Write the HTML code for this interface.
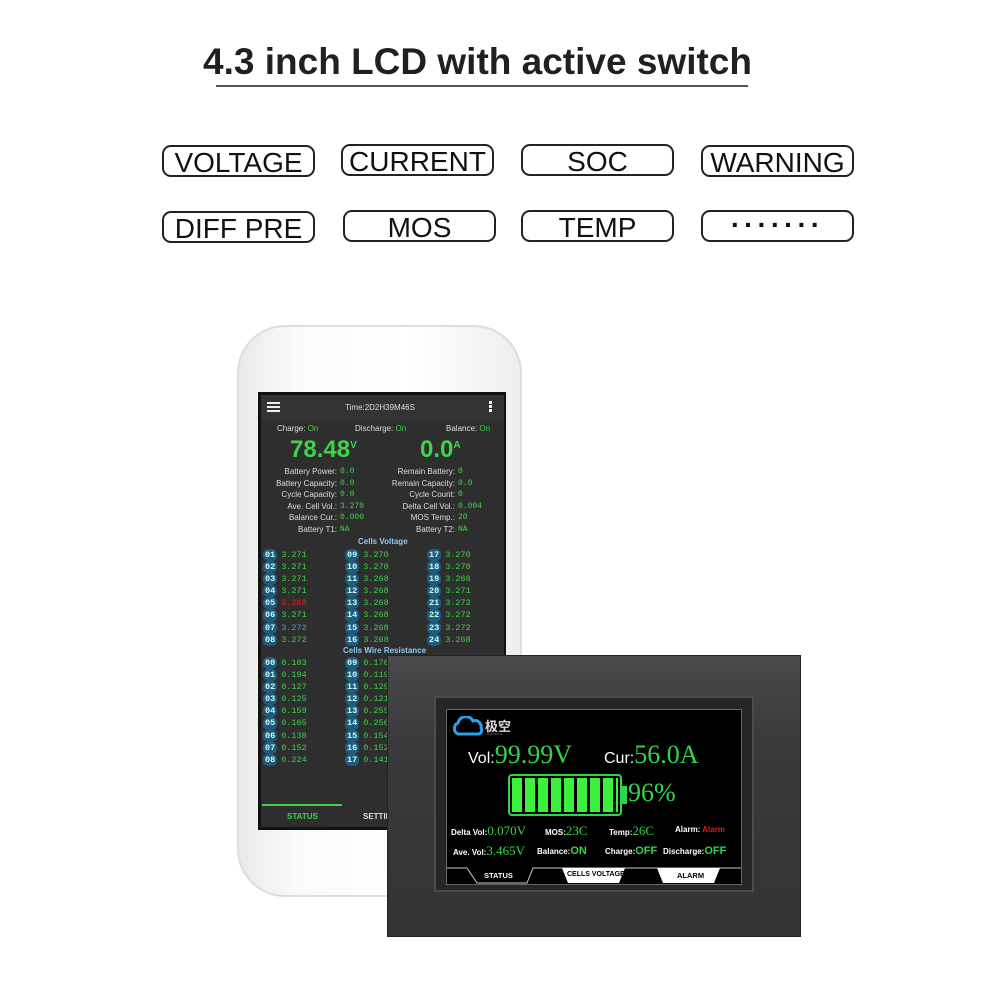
<!DOCTYPE html>
<html><head><meta charset="utf-8"><style>
*{margin:0;padding:0;box-sizing:border-box}
body{width:1000px;height:1000px;background:#fff;position:relative;overflow:hidden;font-family:"Liberation Sans","Noto Sans CJK SC",sans-serif}
.a{position:absolute}
.t{left:0;width:955px;top:41px;text-align:center;font-size:37px;font-weight:bold;color:#231f20}
.ul{left:216px;top:85px;width:532px;height:2px;background:#555}
.b{position:absolute;width:153px;height:32px;border:2px solid #222;border-radius:9px;text-align:center;font-size:28px;line-height:32px;color:#111;letter-spacing:0}
.sc{font-size:8px;color:#ddd;white-space:nowrap}
.g{color:#3fd34a}
.cl{position:absolute;font-size:8.5px;font-family:"Liberation Mono",monospace;color:#3fd34a;white-space:nowrap}
.cl i{font-style:normal;display:inline-block;background:#1f5b80;color:#cfe;border-radius:5px;padding:0 2px;margin-right:4px;font-weight:bold}
.lbl{position:absolute;color:#fff;font-size:9px;font-weight:bold;white-space:nowrap}
.gv{color:#2fd64a;font-family:"Liberation Serif",serif;font-weight:normal}
</style></head><body>
<div class="a t">4.3 inch LCD with active switch</div>
<div class="a ul"></div>
<div class="b" style="left:162px;top:145px">VOLTAGE</div>
<div class="b" style="left:341px;top:144px">CURRENT</div>
<div class="b" style="left:521px;top:144px">SOC</div>
<div class="b" style="left:701px;top:145px">WARNING</div>
<div class="b" style="left:162px;top:211px">DIFF PRE</div>
<div class="b" style="left:343px;top:210px">MOS</div>
<div class="b" style="left:521px;top:210px">TEMP</div>
<div class="b" style="left:701px;top:210px;line-height:26px;letter-spacing:4px;font-weight:bold">·······</div>

<!-- phone -->
<div class="a" style="left:237px;top:325px;width:285px;height:572px;border-radius:48px;background:linear-gradient(90deg,#e9e9e9,#fafafa 20%,#fff 60%,#eee);border:2px solid #ddd"></div>
<div class="a" style="left:258px;top:392px;width:248px;height:438px;background:#111"></div>
<div class="a" style="left:261px;top:395px;width:243px;height:432px;background:#2e2e2e"></div>
<div class="a" style="left:261px;top:395px;width:243px;height:25px;background:#333"></div>
<div class="a" style="left:267px;top:402px;width:13px;height:2px;background:#eee;box-shadow:0 4px #eee,0 8px #eee"></div>
<div class="a sc" style="left:345px;top:403px">Time:2D2H39M46S</div>
<div class="a" style="left:489px;top:401px;width:3px;height:3px;background:#eee;box-shadow:0 4px #eee,0 8px #eee"></div>
<div class="a sc" style="left:277px;top:424px">Charge: <span class="g">On</span></div>
<div class="a sc" style="left:355px;top:424px">Discharge: <span class="g">On</span></div>
<div class="a sc" style="left:446px;top:424px">Balance: <span class="g">On</span></div>
<div class="a g" style="left:290px;top:436px;font-size:24px;font-weight:bold">78.48<sup style="font-size:10px">V</sup></div>
<div class="a g" style="left:420px;top:436px;font-size:24px;font-weight:bold">0.0<sup style="font-size:10px">A</sup></div>
<div class="a sc" style="left:262px;top:466px;width:75px;text-align:right;line-height:11.5px">Battery Power:<br>Battery Capacity:<br>Cycle Capacity:<br>Ave. Cell Vol.:<br>Balance Cur.:<br>Battery T1:</div>
<div class="a sc g" style="left:340px;top:466px;line-height:11.5px;font-family:'Liberation Mono',monospace">0.0<br>0.0<br>0.0<br>3.270<br>0.000<br>NA</div>
<div class="a sc" style="left:370px;top:466px;width:85px;text-align:right;line-height:11.5px">Remain Battery:<br>Remain Capacity:<br>Cycle Count:<br>Delta Cell Vol.:<br>MOS Temp.:<br>Battery T2:</div>
<div class="a sc g" style="left:458px;top:466px;line-height:11.5px;font-family:'Liberation Mono',monospace">0<br>0.0<br>0<br>0.004<br>20<br>NA</div>
<div class="a sc" style="left:358px;top:537px;color:#8ec8f0;font-weight:bold">Cells Voltage</div>
<div class="cl" style="left:263px;top:549px;line-height:12.1px"><i>01</i>3.271<br><i>02</i>3.271<br><i>03</i>3.271<br><i>04</i>3.271<br><i>05</i><span style="color:#e02020">3.268</span><br><i>06</i>3.271<br><i>07</i><span style="color:#4a9ee0">3.272</span><br><i>08</i>3.272</div>
<div class="cl" style="left:345px;top:549px;line-height:12.1px"><i>09</i>3.270<br><i>10</i>3.270<br><i>11</i>3.268<br><i>12</i>3.268<br><i>13</i>3.268<br><i>14</i>3.268<br><i>15</i>3.268<br><i>16</i>3.268</div>
<div class="cl" style="left:427px;top:549px;line-height:12.1px"><i>17</i>3.270<br><i>18</i>3.270<br><i>19</i>3.268<br><i>20</i>3.271<br><i>21</i>3.272<br><i>22</i>3.272<br><i>23</i>3.272<br><i>24</i>3.268</div>
<div class="a sc" style="left:343px;top:646px;color:#8ec8f0;font-weight:bold">Cells Wire Resistance</div>
<div class="cl" style="left:263px;top:657px;line-height:12.1px"><i>00</i>0.183<br><i>01</i>0.194<br><i>02</i>0.127<br><i>03</i>0.125<br><i>04</i>0.159<br><i>05</i>0.165<br><i>06</i>0.138<br><i>07</i>0.152<br><i>08</i>0.224</div>
<div class="cl" style="left:345px;top:657px;line-height:12.1px"><i>09</i>0.176<br><i>10</i>0.119<br><i>11</i>0.129<br><i>12</i>0.121<br><i>13</i>0.255<br><i>14</i>0.256<br><i>15</i>0.154<br><i>16</i>0.152<br><i>17</i>0.141</div>
<div class="a" style="left:262px;top:804px;width:80px;height:2px;background:#3fd34a"></div>
<div class="a sc" style="left:287px;top:812px;color:#3fd34a;font-weight:bold">STATUS</div>
<div class="a sc" style="left:363px;top:812px;font-weight:bold">SETTING</div>

<!-- LCD device -->
<div class="a" style="left:387px;top:655px;width:414px;height:282px;background:linear-gradient(180deg,#4a4a4c,#3a3a3c 30%,#333335);border:1px solid #222"></div>
<div class="a" style="left:434px;top:696px;width:320px;height:196px;background:#262628;border:2px solid #4c4c4e"></div>
<div class="a" style="left:446px;top:709px;width:296px;height:176px;background:#000;border:1px solid #666"></div>
<svg class="a" style="left:452px;top:716px" width="36" height="22"><path d="M6 18a6 6 0 0 1 0-11a8 8 0 0 1 15-2a6 6 0 0 1 8 7a4 4 0 0 1-2 6z" fill="none" stroke="#2aa0e8" stroke-width="3"/></svg>
<div class="a" style="left:485px;top:716px;color:#ddd;font-size:13px;font-weight:bold">极空</div>
<div class="a" style="left:486px;top:732px;color:#aaa;font-size:3px;letter-spacing:1px">JIKONG</div>
<div class="lbl" style="left:468px;top:740px;font-size:16px;font-weight:normal">Vol:<span class="gv" style="font-size:26px">99.99V</span></div>
<div class="lbl" style="left:604px;top:740px;font-size:16px;font-weight:normal">Cur:<span class="gv" style="font-size:26px">56.0A</span></div>
<div class="a" style="left:508px;top:774px;width:114px;height:42px;border:2px solid #2fd64a;border-radius:4px"></div>
<div class="a" style="left:621px;top:786px;width:6px;height:18px;background:#2fd64a"></div>
<div class="a" style="left:512px;top:778px;width:106px;height:34px;background:repeating-linear-gradient(90deg,#3ef03e 0 10px,#000 10px 13px)"></div>
<div class="a gv" style="left:628px;top:778px;font-size:26px">96%</div>
<div class="lbl" style="left:451px;top:823px;font-size:8px">Delta Vol:<span class="gv" style="font-size:13px">0.070V</span></div>
<div class="lbl" style="left:545px;top:823px;font-size:8px">MOS:<span class="gv" style="font-size:13px">23C</span></div>
<div class="lbl" style="left:609px;top:823px;font-size:8px">Temp:<span class="gv" style="font-size:13px">26C</span></div>
<div class="lbl" style="left:675px;top:825px;font-size:8px">Alarm: <span style="color:#e01a1a">Alarm</span></div>
<div class="lbl" style="left:453px;top:843px;font-size:8px">Ave. Vol:<span class="gv" style="font-size:13px">3.465V</span></div>
<div class="lbl" style="left:537px;top:845px;font-size:8px">Balance:<span style="color:#2fd64a;font-size:11px">ON</span></div>
<div class="lbl" style="left:605px;top:845px;font-size:8px">Charge:<span style="color:#2fd64a;font-size:11px">OFF</span></div>
<div class="lbl" style="left:663px;top:845px;font-size:8px">Discharge:<span style="color:#2fd64a;font-size:11px">OFF</span></div>
<svg class="a" style="left:447px;top:866px" width="294" height="18">
<path d="M0 2H20L30 17H80L86 2H294" fill="none" stroke="#ccc" stroke-width="1"/>
<polygon points="115,2 178,2 172,17 121,17" fill="#fff"/>
<polygon points="210,2 273,2 267,17 216,17" fill="#fff"/>
</svg>
<div class="lbl" style="left:484px;top:871px;font-size:7.5px">STATUS</div>
<div class="lbl" style="left:567px;top:871px;font-size:7px;color:#000">CELLS VOLTAGE</div>
<div class="lbl" style="left:677px;top:871px;font-size:7.5px;color:#000">ALARM</div>
</body></html>
